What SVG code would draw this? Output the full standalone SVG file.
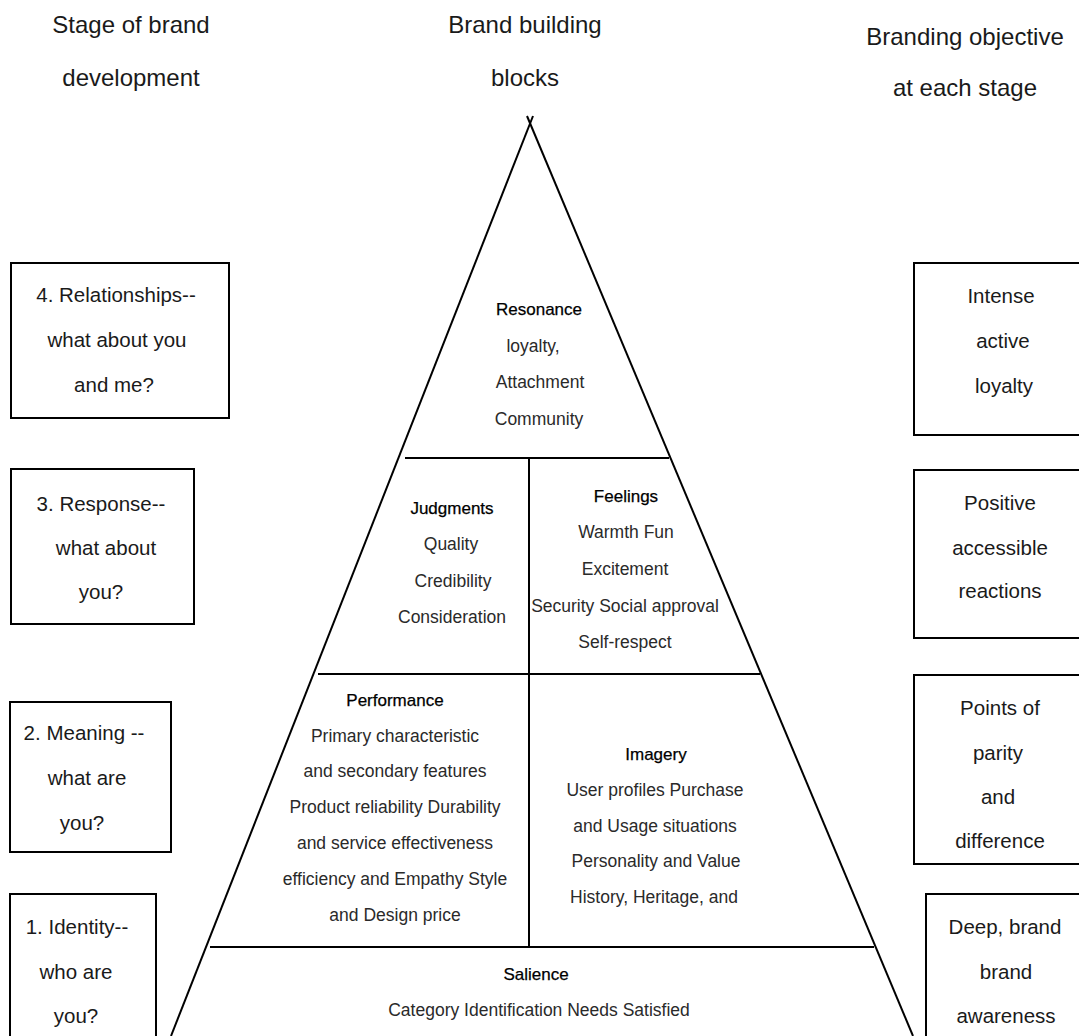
<svg xmlns="http://www.w3.org/2000/svg" width="1079" height="1036" viewBox="0 0 1079 1036">
  <style>
    .hdr { font-family: "Liberation Sans", Arial, sans-serif; font-size: 24px; fill: #1a1a1a; text-anchor: middle; }
    .box { fill: #ffffff; stroke: #000000; stroke-width: 2; }
    .bt  { font-family: "Liberation Sans", Arial, sans-serif; font-size: 20.5px; fill: #1a1a1a; text-anchor: middle; }
    .edge { stroke: #000000; stroke-width: 2; fill: none; stroke-linecap: butt; }
    .ttl { font-family: "Liberation Sans", Arial, sans-serif; font-size: 17px; fill: #000000; stroke: #000000; stroke-width: 0.25; text-anchor: middle; }
    .itm { font-family: "Liberation Sans", Arial, sans-serif; font-size: 17.5px; fill: #2a2a2a; text-anchor: middle; }
  </style>
  <rect width="1079" height="1036" fill="#ffffff"/>

  <!-- column headings -->
  <g id="heading-stage">
    <text class="hdr" x="131" y="33">Stage of brand</text>
    <text class="hdr" x="131" y="86">development</text>
  </g>
  <g id="heading-blocks">
    <text class="hdr" x="525" y="33">Brand building</text>
    <text class="hdr" x="525" y="86">blocks</text>
  </g>
  <g id="heading-objective">
    <text class="hdr" x="965" y="45">Branding objective</text>
    <text class="hdr" x="965" y="96">at each stage</text>
  </g>

  <!-- pyramid outline and tier dividers -->
  <g id="pyramid-lines">
    <line class="edge" x1="533" y1="116" x2="171" y2="1036"/>
    <line class="edge" x1="527" y1="116" x2="913" y2="1036"/>
    <line class="edge" x1="405" y1="458" x2="669" y2="458"/>
    <line class="edge" x1="318" y1="674" x2="760" y2="674"/>
    <line class="edge" x1="210" y1="947" x2="874" y2="947"/>
    <line class="edge" x1="529" y1="458" x2="529" y2="947"/>
  </g>

  <!-- stage boxes (left) -->
  <g id="stage-4">
    <rect class="box" x="11" y="263" width="218" height="155"/>
    <text class="bt" x="116" y="302">4. Relationships--</text>
    <text class="bt" x="117" y="347">what about you</text>
    <text class="bt" x="114" y="392">and me?</text>
  </g>
  <g id="stage-3">
    <rect class="box" x="11" y="469" width="183" height="155"/>
    <text class="bt" x="101" y="511">3. Response--</text>
    <text class="bt" x="106" y="555">what about</text>
    <text class="bt" x="101" y="599">you?</text>
  </g>
  <g id="stage-2">
    <rect class="box" x="10" y="702" width="161" height="150"/>
    <text class="bt" x="84" y="740">2. Meaning --</text>
    <text class="bt" x="87" y="785">what are</text>
    <text class="bt" x="82" y="830">you?</text>
  </g>
  <g id="stage-1">
    <rect class="box" x="10" y="894" width="146" height="160"/>
    <text class="bt" x="77" y="934">1. Identity--</text>
    <text class="bt" x="76" y="979">who are</text>
    <text class="bt" x="76" y="1023">you?</text>
  </g>

  <!-- objective boxes (right) -->
  <g id="objective-4">
    <rect class="box" x="914" y="263" width="180" height="172"/>
    <text class="bt" x="1001" y="303">Intense</text>
    <text class="bt" x="1003" y="348">active</text>
    <text class="bt" x="1004" y="393">loyalty</text>
  </g>
  <g id="objective-3">
    <rect class="box" x="914" y="470" width="180" height="168"/>
    <text class="bt" x="1000" y="510">Positive</text>
    <text class="bt" x="1000" y="555">accessible</text>
    <text class="bt" x="1000" y="598">reactions</text>
  </g>
  <g id="objective-2">
    <rect class="box" x="914" y="675" width="180" height="189"/>
    <text class="bt" x="1000" y="715">Points of</text>
    <text class="bt" x="998" y="760">parity</text>
    <text class="bt" x="998" y="804">and</text>
    <text class="bt" x="1000" y="848">difference</text>
  </g>
  <g id="objective-1">
    <rect class="box" x="926" y="894" width="170" height="160"/>
    <text class="bt" x="1005" y="934">Deep, brand</text>
    <text class="bt" x="1006" y="979">brand</text>
    <text class="bt" x="1006" y="1023">awareness</text>
  </g>

  <!-- pyramid tiers -->
  <g id="tier-resonance">
    <text class="ttl" x="539" y="315">Resonance</text>
    <text class="itm" x="533" y="352">loyalty,</text>
    <text class="itm" x="540" y="388">Attachment</text>
    <text class="itm" x="539" y="425">Community</text>
  </g>
  <g id="tier-judgments">
    <text class="ttl" x="452" y="514">Judgments</text>
    <text class="itm" x="451" y="550">Quality</text>
    <text class="itm" x="453" y="587">Credibility</text>
    <text class="itm" x="452" y="623">Consideration</text>
  </g>
  <g id="tier-feelings">
    <text class="ttl" x="626" y="502">Feelings</text>
    <text class="itm" x="626" y="538">Warmth Fun</text>
    <text class="itm" x="625" y="575">Excitement</text>
    <text class="itm" x="625" y="612">Security Social approval</text>
    <text class="itm" x="625" y="648">Self-respect</text>
  </g>
  <g id="tier-performance">
    <text class="ttl" x="395" y="706">Performance</text>
    <text class="itm" x="395" y="742">Primary characteristic</text>
    <text class="itm" x="395" y="777">and secondary features</text>
    <text class="itm" x="395" y="813">Product reliability Durability</text>
    <text class="itm" x="395" y="849">and service effectiveness</text>
    <text class="itm" x="395" y="885">efficiency and Empathy Style</text>
    <text class="itm" x="395" y="921">and Design price</text>
  </g>
  <g id="tier-imagery">
    <text class="ttl" x="656" y="760">Imagery</text>
    <text class="itm" x="655" y="796">User profiles Purchase</text>
    <text class="itm" x="655" y="832">and Usage situations</text>
    <text class="itm" x="656" y="867">Personality and Value</text>
    <text class="itm" x="654" y="903">History, Heritage, and</text>
  </g>
  <g id="tier-salience">
    <text class="ttl" x="536" y="980">Salience</text>
    <text class="itm" x="539" y="1016">Category Identification Needs Satisfied</text>
  </g>
</svg>
